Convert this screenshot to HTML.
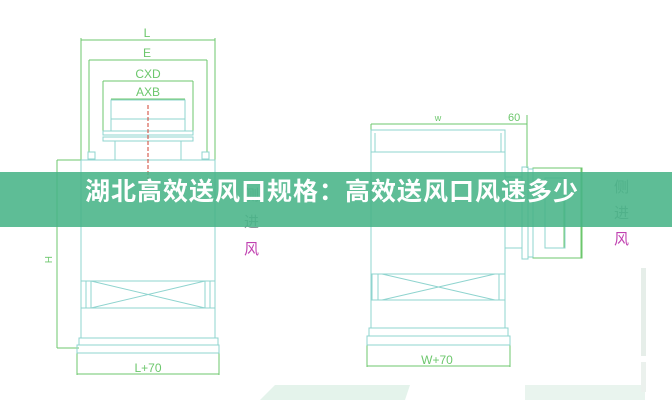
<!DOCTYPE html>
<html><head><meta charset="utf-8"><style>
html,body{margin:0;padding:0;background:#fff;width:672px;height:400px;overflow:hidden}
svg{position:absolute;left:0;top:0}
.banner{position:absolute;left:0;top:172px;width:672px;height:55px;background:rgba(72,180,135,0.88)}
.bt{position:absolute;left:0;top:172px;width:664px;height:55px;line-height:55px;text-align:center;color:#fff;font:bold 25px "Liberation Sans","Noto Sans CJK SC",sans-serif;letter-spacing:1px}
</style></head><body>
<svg width="672" height="400" viewBox="0 0 672 400" font-family="Liberation Sans, sans-serif">
<polygon points="260,400 405,400 410,385 275,385" fill="#e4f3eb"/>
<rect x="525" y="385" width="120" height="15" fill="#e9f4ee"/>
<rect x="641" y="268" width="5" height="88" fill="#e6eee9"/>
<rect x="641" y="362" width="5" height="30" fill="#ebf1ed"/>
<g fill="none" stroke="#6cc76c" stroke-width="1">
<line x1="81" y1="40" x2="215" y2="40"/><line x1="81" y1="38" x2="81" y2="160"/><line x1="215" y1="38" x2="215" y2="160"/>
<line x1="89" y1="60" x2="207" y2="60"/><line x1="89" y1="60" x2="89" y2="152"/><line x1="207" y1="60" x2="207" y2="152"/>
<line x1="103" y1="81" x2="193" y2="81"/><line x1="103" y1="81" x2="103" y2="131"/><line x1="193" y1="81" x2="193" y2="131"/>
<line x1="111" y1="99" x2="185" y2="99"/>
<line x1="57" y1="160" x2="81" y2="160"/><line x1="57" y1="160" x2="57" y2="348"/><line x1="57" y1="348" x2="79" y2="348"/>
<line x1="77" y1="374" x2="219" y2="374"/><line x1="77" y1="350" x2="77" y2="375"/><line x1="219" y1="350" x2="219" y2="375"/>
<line x1="371" y1="124" x2="500" y2="124"/><line x1="500" y1="124" x2="527" y2="124"/>
<line x1="527" y1="115" x2="527" y2="168"/><line x1="371" y1="124" x2="371" y2="132"/>
<line x1="367" y1="366" x2="510" y2="366"/><line x1="367" y1="345" x2="367" y2="367"/><line x1="510" y1="345" x2="510" y2="367"/>
<rect x="533" y="168" width="49" height="90"/>
<line x1="564" y1="178" x2="564" y2="248"/><line x1="581" y1="168" x2="581" y2="258"/>
</g>
<g fill="#6cc76c" font-size="12">
<text x="147" y="37" text-anchor="middle">L</text>
<text x="147" y="57" text-anchor="middle">E</text>
<text x="148" y="78" text-anchor="middle">CXD</text>
<text x="148" y="96" text-anchor="middle">AXB</text>
<text x="148" y="372" text-anchor="middle">L+70</text>
<text x="437" y="364" text-anchor="middle">W+70</text>
<text x="438" y="121" text-anchor="middle" font-size="9">w</text>
<text x="508" y="121" font-size="11">60</text>
<text x="52" y="255" font-size="10" transform="rotate(90 48 252)">H</text>
</g>
<g fill="none" stroke="#8fd4cf" stroke-width="1">
<rect x="111" y="100" width="74" height="31"/><line x1="111" y1="119" x2="185" y2="119"/>
<rect x="103" y="131" width="90" height="4"/><rect x="103" y="137" width="90" height="4"/>
<rect x="115" y="141" width="66" height="19"/>
<rect x="88" y="152" width="7" height="7"/><rect x="202" y="152" width="7" height="7"/>
<rect x="81" y="160" width="134" height="178"/>
<rect x="81" y="281" width="134" height="27"/><line x1="86" y1="281" x2="86" y2="308"/><line x1="91" y1="281" x2="91" y2="308"/><line x1="205" y1="281" x2="205" y2="308"/><line x1="210" y1="281" x2="210" y2="308"/>
<line x1="91" y1="281" x2="205" y2="308"/><line x1="91" y1="308" x2="205" y2="281"/>
<rect x="79" y="338" width="139" height="7"/><rect x="77" y="345" width="142" height="8"/>
<rect x="371" y="130" width="134" height="198"/>
<line x1="371" y1="152" x2="505" y2="152"/><line x1="375" y1="133" x2="375" y2="152"/><line x1="501" y1="133" x2="501" y2="152"/>
<rect x="372" y="274" width="133" height="26"/><line x1="378" y1="274" x2="378" y2="300"/><line x1="499" y1="274" x2="499" y2="300"/>
<line x1="382" y1="274" x2="495" y2="300"/><line x1="382" y1="300" x2="495" y2="274"/>
<rect x="369" y="328" width="139" height="8"/><rect x="367" y="336" width="143" height="9"/>
<rect x="505" y="177" width="17" height="71"/>
<rect x="522" y="167" width="6" height="92"/><rect x="528" y="169" width="5" height="88"/>
<rect x="545" y="178" width="20" height="70"/>
</g>
<line x1="148" y1="105" x2="148" y2="180" stroke="#d04030" stroke-width="1" stroke-dasharray="4,2"/>
<g font-family="Liberation Sans, Noto Sans CJK SC, sans-serif" font-size="15">
<text x="614" y="192" fill="#8a9a9a">侧</text>
<text x="614" y="218" fill="#8a9a9a">进</text>
<text x="614" y="244" fill="#c040b0">风</text>
<text x="244" y="200" fill="#8a9a9a">侧</text>
<text x="244" y="227" fill="#8a9a9a">进</text>
<text x="244" y="254" fill="#c040b0">风</text>
</g>
</svg>
<div class="banner"></div>
<div class="bt">湖北高效送风口规格：高效送风口风速多少</div>
</body></html>
